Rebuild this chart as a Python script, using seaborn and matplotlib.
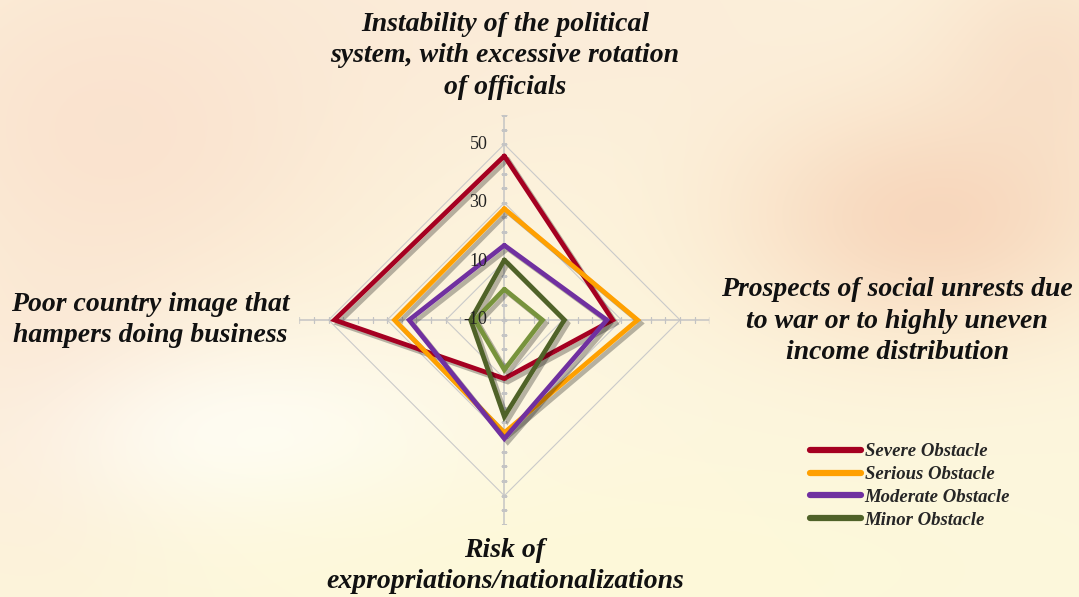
import numpy as np
import pandas as pd
import matplotlib
matplotlib.use("Agg")
import matplotlib.pyplot as plt
import matplotlib.patheffects as pe
import matplotlib.transforms as mtransforms
from matplotlib.lines import Line2D
import seaborn as sns

# data (four radar axes, clockwise from top)
categories = [
    "Instability of the political\nsystem, with excessive rotation\nof officials",
    "Prospects of social unrests due\nto war or to highly uneven\nincome distribution",
    "Risk of\nexpropriations/nationalizations",
    "Poor country image that\nhampers doing business",
]
series_names = ["Severe Obstacle", "Serious Obstacle", "Moderate Obstacle",
                "Minor Obstacle", "Not an Obstacle"]
severe = [46, 27, 10, 48]
serious = [28, 35.5, 28.5, 27.5]
moderate = [15.5, 25, 30.5, 22.5]
minor = [10.5, 10.5, 23, 1.5]
not_obstacle = [0.5, 3, 7, 0]
tick_values = [-10, 10, 30, 50]

colors = ["#A50021", "#FFA000", "#7030A0", "#4F6228", "#77933C"]
legend_count = 4

sns.set_style("white")
plt.rcParams["font.family"] = ["Liberation Serif", "DejaVu Serif"]

fig = plt.figure(figsize=(10.79, 5.97), dpi=100)

# warm washed background
h, w = 597, 1079
yy, xx = np.mgrid[0:h, 0:w]
img = np.ones((h, w, 3)) * np.array([253, 246, 222]) / 255.0
def blob(cx, cy, sx, sy, col, strength):
    global img
    g = np.exp(-(((xx - cx) / sx) ** 2 + ((yy - cy) / sy) ** 2)) * strength
    img = img * (1 - g[..., None]) + np.array(col)[None, None, :] / 255.0 * g[..., None]
blob(120, 120, 260, 200, (248, 214, 196), 0.6)
blob(60, 420, 150, 160, (248, 216, 200), 0.5)
blob(520, 0, 420, 160, (250, 230, 214), 0.6)
blob(930, 220, 200, 120, (242, 180, 150), 0.45)
blob(1050, 60, 120, 120, (244, 200, 176), 0.4)
blob(240, 440, 230, 100, (255, 255, 250), 0.8)
blob(600, 570, 520, 110, (253, 250, 215), 0.7)
bg = fig.add_axes([0, 0, 1, 1], zorder=-5)
bg.imshow(np.clip(img, 0, 1), aspect="auto")
bg.axis("off")

ax = fig.add_axes([0.2774, 0.1206, 0.38, 0.6868], projection="polar")
ax.set_facecolor("none")
ax.set_theta_zero_location("N")
ax.set_theta_direction(-1)
ax.set_ylim(-10, 60)
ax.grid(False)
ax.spines["polar"].set_visible(False)
ax.set_xticks([])
ax.set_yticks([])

angles = np.linspace(0, 2 * np.pi, len(categories), endpoint=False)
closed = np.append(angles, angles[0])

# diamond gridlines
for v in tick_values[1:]:
    ax.plot(closed, [v] * len(closed), color="#CACACA", lw=0.8, zorder=1)
# spokes with small ticks
minor_ticks = np.arange(-10, 61, 5)
for a in angles:
    ax.plot([a, a], [-10, 60], color="#C4C4C4", lw=1.1, zorder=1)
    mk = "_" if np.isclose(np.sin(a), 0) else "|"
    ax.plot([a] * len(minor_ticks), minor_ticks, ls="none", marker=mk,
            ms=4, mew=0.9, color="#C4C4C4", zorder=1)

offset = mtransforms.ScaledTranslation(-0.17, 0, fig.dpi_scale_trans)
for v in tick_values:
    ax.text(0, v, str(v), transform=ax.transData + offset, ha="right",
            va="center", fontsize=13, color="#222222", zorder=6)

rows = []
for name, vals in zip(series_names, [severe, serious, moderate, minor, not_obstacle]):
    for i, (a, v) in enumerate(zip(closed, vals + vals[:1])):
        rows.append({"series": name, "angle": a, "value": v, "order": i})
df = pd.DataFrame(rows)

shadow = [pe.SimpleLineShadow(offset=(2.5, -2.5), shadow_color="black", alpha=0.28),
          pe.Normal()]
for k, (name, col) in enumerate(zip(series_names, colors)):
    sub = df[df["series"] == name]
    sns.lineplot(data=sub, x="angle", y="value", sort=False, estimator=None,
                 color=col, lw=3.4, ax=ax, zorder=3 + k * 0.1, legend=False)
    ax.lines[-1].set_path_effects(shadow)
    ax.lines[-1].set_solid_joinstyle("miter")
ax.set_xlabel("")
ax.set_ylabel("")

# category labels
label_kw = dict(fontsize=20, fontweight="bold", fontstyle="italic",
                ha="center", va="center", linespacing=1.32, color="#111111")
fig.text(505 / w, 1 - 56 / h, categories[0], **label_kw)
fig.text(897 / w, 1 - 321 / h, categories[1], **label_kw)
fig.text(505 / w, 1 - 566 / h, categories[2], **label_kw)
fig.text(150 / w, 1 - 320 / h, categories[3], **label_kw)

handles = [Line2D([], [], color=c, lw=4.5, solid_capstyle="round")
           for c in colors[:legend_count]]
fig.legend(handles, series_names[:legend_count], loc="upper left",
           bbox_to_anchor=(801 / w, 1 - 434 / h), frameon=False,
           prop={"size": 13.5, "weight": "bold", "style": "italic"},
           handlelength=2.7, handletextpad=0.2, labelspacing=0.3,
           borderpad=0)

fig.savefig("out.png", dpi=100)
